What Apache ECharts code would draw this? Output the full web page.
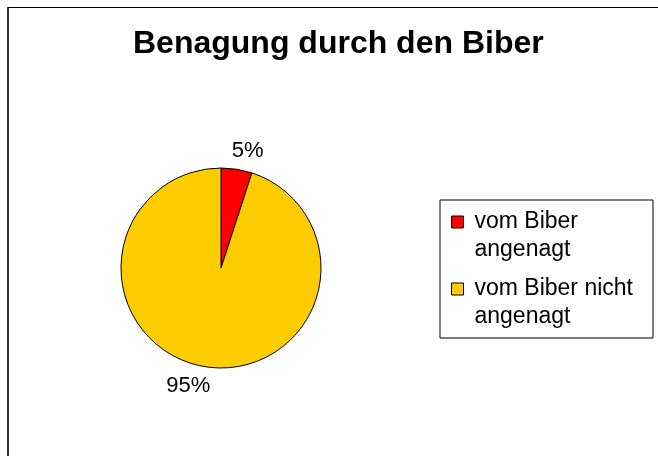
<!DOCTYPE html>
<html>
<head>
<meta charset="utf-8">
<script src="https://cdn.jsdelivr.net/npm/echarts@6/dist/echarts.min.js"></script>
<style>
  html, body { margin: 0; padding: 0; background: #fff; }
  #chart { width: 658px; height: 456px; position: relative; }
  .frame {
    position: absolute; left: 7px; top: 7px; width: 700px; height: 500px;
    border-left: 2px solid #333; border-top: 1px solid #000;
    pointer-events: none; box-sizing: border-box;
  }
</style>
</head>
<body>
<div id="chart"></div>
<div class="frame"></div>
<script>
const titleText = "Benagung durch den Biber";
const categories = ["vom Biber angenagt", "vom Biber nicht angenagt"];
const shares = [5, 95];
const colors = ["#ff0000", "#ffcc00"];

const chart = echarts.init(document.getElementById("chart"));
const font = "Liberation Sans, Arial, sans-serif";

const option = {
  backgroundColor: "#fff",
  title: {
    text: titleText,
    left: 133,
    top: 28,
    padding: 0,
    textStyle: { fontFamily: font, fontSize: 32, fontWeight: "bold", color: "#000" },
  },
  legend: {
    orient: "vertical",
    left: 440,
    top: 200,
    padding: [8, 20, 7, 11],
    itemGap: 11,
    itemWidth: 12,
    itemHeight: 40,
    // square at the top of a tall box so it lines up with the first text line
    icon: "path://M0,0L12,0L12,12L0,12ZM0,40",
    backgroundColor: "#fff",
    borderColor: "#000",
    borderWidth: 1,
    borderRadius: 0,
    itemStyle: { borderColor: "#000", borderWidth: 1 },
    formatter: name => name.replace(" angenagt", "\nangenagt"),
    textStyle: { fontFamily: font, fontSize: 23, lineHeight: 28, color: "#000", padding: [0, 0, 0, 6] },
    data: categories,
  },
  series: [
    {
      type: "pie",
      center: [221, 268],
      radius: 100,
      startAngle: 90,
      clockwise: true,
      animation: false,
      itemStyle: { borderColor: "#000", borderWidth: 1 },
      label: {
        position: "outside",
        formatter: "{c}%",
        fontFamily: font,
        fontSize: 22,
        color: "#000",
        distanceToLabelLine: 0,
      },
      labelLine: { show: false, length: 19, length2: 0 },
      labelLayout: p => ({ align: "center", dx: p.dataIndex === 0 ? 8 : -14 }),
      emphasis: { disabled: true },
      data: categories.map((name, i) => ({
        name: name,
        value: shares[i],
        itemStyle: { color: colors[i] },
      })),
    },
  ],
};

chart.setOption(option);
</script>
</body>
</html>
